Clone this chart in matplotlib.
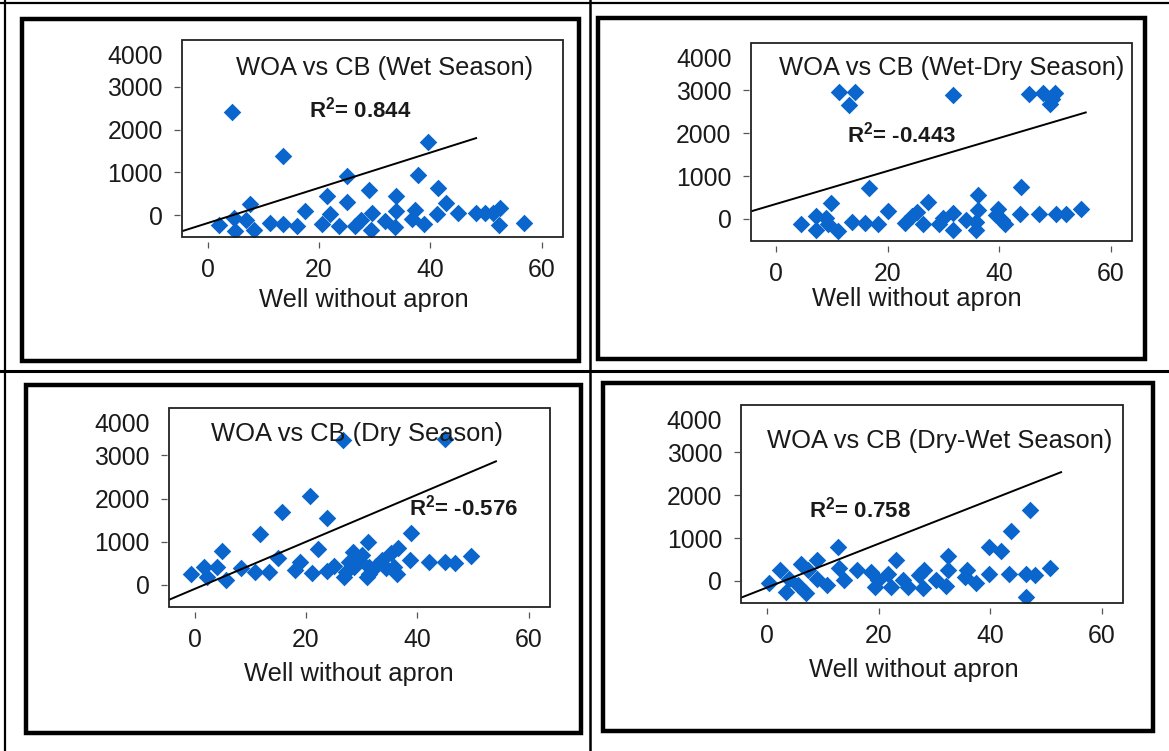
import numpy as np
import matplotlib.pyplot as plt
from matplotlib.patches import Rectangle
from matplotlib.transforms import ScaledTranslation

W, H = 1169, 751

plt.rcParams['font.family'] = ['Liberation Sans', 'DejaVu Sans']
plt.rcParams['mathtext.fontset'] = 'custom'
plt.rcParams['mathtext.rm'] = 'Liberation Sans'
plt.rcParams['mathtext.bf'] = 'Liberation Sans:bold'

# Wet season
wet_x = [2.0, 4.4, 4.7, 4.9, 6.9, 7.6, 8.3, 11.2, 13.6, 13.6, 16.0, 17.4, 20.5, 21.5,
         21.9, 23.6, 25.1, 25.0, 26.5, 27.5, 29.0, 29.5, 29.4, 31.9, 33.8, 33.8, 33.7,
         36.7, 37.2, 37.8, 38.8, 39.6, 41.1, 41.3, 42.8, 45.0, 48.1, 49.8, 51.3, 52.4,
         52.3, 56.8]
wet_y = [-240, 2420, -80, -370, -120, 260, -350, -195, 1390, -205, -260, 100, -210, 445,
         20, -265, 915, 310, -250, -117, 590, 40, -340, -145, 445, 90, -290,
         -90, 117, 940, -200, 1710, 20, 625, 274, 45, 40, 40, 40, 157,
         -234, -190]

# Wet-Dry season
wetdry_x = [4.4, 7.1, 7.1, 9.0, 9.3, 9.8, 11.0, 11.3, 13.0, 14.1, 13.6, 16.0, 16.6, 18.3,
            20.0, 23.1, 24.3, 25.2, 26.4, 27.3, 29.1, 29.9, 31.7, 31.7, 31.7, 34.1, 35.9,
            36.2, 36.2, 35.9, 39.4, 39.8, 40.5, 41.0, 43.7, 43.9, 45.4, 47.2, 47.9, 49.1,
            49.4, 50.0, 50.1, 51.9, 54.7]
wetdry_y = [-130, 60, -250, 20, -110, 370, -290, 2950, 2650, 2950, -80, -90, 720, -130,
            180, -90, 60, 170, -130, 390, -130, 20, 2880, 140, -250, -20, -80,
            215, 560, -250, 80, 230, -20, -130, 120, 750, 2910, 120, 2930, 2680,
            2800, 2925, 120, 120, 230]

# Dry season
dry_x = [-0.7, 1.7, 2.3, 4.1, 5.0, 5.6, 8.4, 10.8, 11.7, 13.4, 14.9, 15.6, 18.0, 19.0,
         20.8, 21.1, 22.2, 23.7, 23.8, 25.1, 26.7, 26.8, 27.1, 27.7, 28.4, 28.6, 29.5,
         30.1, 30.9, 31.2, 31.3, 31.3, 32.5, 33.7, 34.3, 35.2, 35.8, 36.4, 36.5, 38.6,
         38.8, 42.0, 44.9, 45.0, 46.7, 49.7]
dry_y = [260, 420, 180, 420, 790, 120, 380, 300, 1170, 300, 615, 1680, 340, 530,
         2050, 270, 830, 1560, 330, 430, 3350, 190, 300, 540, 760, 420, 575,
         690, 180, 1000, 420, 245, 430, 575, 380, 730, 420, 260, 850, 575,
         1200, 535, 3370, 535, 510, 670]

# Dry-Wet season
drywet_x = [0.4, 2.3, 3.4, 3.9, 5.5, 6.1, 7.0, 7.4, 8.9, 8.9, 10.7, 12.8, 12.9, 13.8,
            16.2, 18.6, 19.4, 19.8, 21.6, 22.2, 23.2, 24.3, 25.2, 27.3, 27.9, 28.2, 30.3,
            32.1, 32.4, 32.4, 35.4, 35.9, 37.4, 39.7, 39.8, 41.9, 43.4, 43.7, 46.4, 46.4,
            47.1, 48.1, 50.7]
drywet_y = [-60, 250, -250, 55, -100, 390, -290, 250, 480, 55, -100, 790, 290, 15,
            250, 210, -140, 15, 170, -140, 480, 15, -140, 130, -170, 250, 15,
            -120, 250, 590, 80, 260, -45, 155, 800, 690, 170, 1155, 170, -380,
            1650, 130, 310]

titles = ["WOA vs CB (Wet Season)", "WOA vs CB (Wet-Dry Season)",
          "WOA vs CB (Dry Season)", "WOA vs CB (Dry-Wet Season)"]
r2_values = ["0.844", "-0.443", "-0.576", "0.758"]
fit_intercept = [-189, 350, -96, -153]
fit_slope = [41.3, 38.4, 54.7, 51.0]
fit_x_end = [48.2, 55.5, 54.1, 52.7]
x_ticks = [0, 20, 40, 60]
y_ticks = [0, 1000, 2000, 3000, 4000]
xlabel = "Well without apron"

series_x = [wet_x, wetdry_x, dry_x, drywet_x]
series_y = [wet_y, wetdry_y, dry_y, drywet_y]

BLUE = '#0a66cc'

# layout in pixels: (left, top, right, bottom)
frames = [(22, 19, 579, 361), (598, 18, 1145, 359),
          (26, 385, 581, 733), (603, 383, 1153, 731)]
axes_px = [(182, 40, 563, 237), (750.6, 43, 1132, 241),
           (169, 408, 550, 607), (741.4, 405, 1123, 603)]
title_pos = [(0.142, 0.822), (0.074, 0.838), (0.110, 0.834), (0.066, 0.783)]
r2_pos = [(0.333, 0.608), (0.254, 0.50), (0.631, 0.459), (0.176, 0.431)]
xlabel_pos = [(0.477, -0.32), (0.436, -0.293), (0.472, -0.337), (0.452, -0.338)]

fig = plt.figure(figsize=(W / 100, H / 100), dpi=100)

# background layer with the table lines and panel frames
bg = fig.add_axes([0, 0, 1, 1])
bg.set_xlim(0, W)
bg.set_ylim(H, 0)
bg.axis('off')
bg.plot([0, W], [3, 3], color='k', lw=1.6)
bg.plot([5, 5], [0, H], color='k', lw=1.6)
bg.plot([590, 590], [0, H], color='k', lw=1.8)
bg.plot([0, W], [371, 371], color='k', lw=2.2)
for l, t, r, b in frames:
    bg.add_patch(Rectangle((l, t), r - l, b - t, fill=False, ec='k', lw=3.2))

for i in range(4):
    l, t, r, b = axes_px[i]
    ax = fig.add_axes([l / W, 1 - b / H, (r - l) / W, (b - t) / H])
    ax.set_xlim(-4.6, 63.8)
    ax.set_ylim(-515, 4100)

    ax.scatter(series_x[i], series_y[i], marker='D', s=80, color=BLUE,
               linewidths=0, zorder=3)
    xs = np.array([-4.6, fit_x_end[i]])
    ax.plot(xs, fit_intercept[i] + fit_slope[i] * xs, color='k', lw=1.4, zorder=4)

    # R style box with ticks detached from it
    for s in ax.spines.values():
        s.set_visible(False)
    ax.spines['left'].set_position(('outward', 1.2))
    ax.spines['bottom'].set_position(('outward', 3.3))
    ax.add_patch(Rectangle((0, 0), 1, 1, transform=ax.transAxes, fill=False,
                           ec='#222222', lw=1.3, clip_on=False, zorder=5))
    ax.set_xticks(x_ticks)
    ax.set_yticks(y_ticks)
    ax.tick_params(axis='both', length=4.5, width=0.9, color='#555555',
                   labelsize=17.8, labelcolor='#1a1a1a')
    ax.tick_params(axis='x', pad=7)
    ax.tick_params(axis='y', pad=8)
    top_tick = ax.yaxis.get_major_ticks()[-1]
    top_tick.tick1line.set_visible(False)
    lab = top_tick.label1
    lab.set_transform(lab.get_transform() +
                      ScaledTranslation(0, -0.1, fig.dpi_scale_trans))

    ax.text(*title_pos[i], titles[i], transform=ax.transAxes, fontsize=18.4,
            color='#1a1a1a', ha='left', va='baseline', zorder=6)
    ax.text(*r2_pos[i], r'$\mathbf{R^2}$= ' + r2_values[i], transform=ax.transAxes,
            fontsize=16, fontweight='bold', color='#1a1a1a',
            ha='left', va='baseline', zorder=6)
    ax.text(*xlabel_pos[i], xlabel, transform=ax.transAxes, fontsize=18.4,
            color='#1a1a1a', ha='center', va='center')

fig.savefig('out.png', dpi=100)
